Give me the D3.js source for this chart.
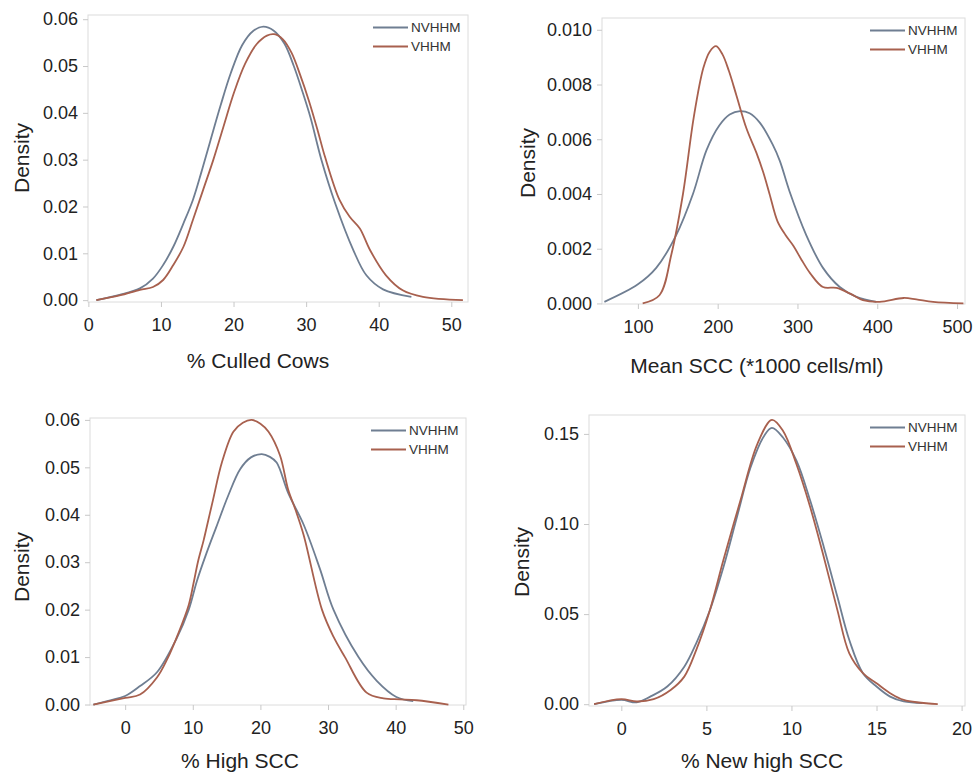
<!DOCTYPE html>
<html>
<head>
<meta charset="utf-8">
<script src="https://cdn.jsdelivr.net/npm/d3@7"></script>
<style>
  body { margin: 0; background: #fff; }
  svg { font-family: "Liberation Sans", Arial, sans-serif; }
  .tick text { fill: #222; }
</style>
</head>
<body>
<div id="chart"></div>
<script>
// series names
var seriesNames = ["NVHHM", "VHHM"];

// panel 1: % culled cows  [x, density]
var culledNV = [[1.1,0],[4.3,0.0011],[7.1,0.0025],[8.9,0.0046],[10.3,0.0075],[11.7,0.0114],[13.1,0.0164],[14.4,0.0214],[15.6,0.0275],[16.8,0.034],[18.2,0.0415],[19.6,0.0484],[21.2,0.0545],[22.7,0.0575],[24.1,0.0584],[25.5,0.0576],[27,0.0548],[28.3,0.05],[29.5,0.0445],[30.6,0.039],[32.1,0.03],[34,0.0207],[36.5,0.0107],[38.3,0.0053],[40.6,0.0023],[44.5,0.0007]];
var culledV = [[1.1,0],[4.3,0.001],[7.1,0.0022],[8.9,0.0028],[10.3,0.0043],[11.7,0.0075],[13.1,0.0114],[14.4,0.0171],[15.8,0.0235],[17.2,0.0299],[18.6,0.037],[20.1,0.0445],[21.6,0.0505],[23.2,0.0547],[24.6,0.0565],[25.6,0.0568],[26.8,0.0557],[28,0.0528],[29.2,0.048],[30.4,0.0425],[31.6,0.0362],[32.6,0.0306],[34.6,0.0214],[36,0.0178],[37.4,0.0153],[38.8,0.0107],[41,0.0053],[43.3,0.0021],[46.1,0.0007],[51.6,0]];

// panel 2: mean SCC
var sccNV = [[58,0.00006],[100,0.0007],[123,0.0013],[148,0.0025],[169,0.004],[186,0.0056],[202,0.0065],[215,0.0069],[228,0.00703],[240,0.00695],[253,0.0066],[269,0.0058],[278,0.0052],[290,0.0041],[311,0.0025],[332,0.0013],[353,0.0006],[374,0.00024],[399,0.00006]];
var sccV = [[106,0],[127,0.0003],[142,0.0018],[156.5,0.004],[170,0.0068],[182,0.0086],[190,0.0092],[198,0.0094],[206,0.0091],[214,0.0085],[223.5,0.0076],[236,0.0064],[248.6,0.0055],[257,0.0048],[265,0.004],[275,0.003],[285,0.0025],[295,0.0021],[305,0.0016],[316,0.0011],[332,0.0006],[349,0.00057],[366,0.00036],[382,0.00012],[403,0.00006],[433,0.0002],[449,0.00015],[470,0.00006],[508,0]];

// panel 3: % high SCC
var highNV = [[-4.7,0],[-2.2,0.0009],[0,0.0018],[2.2,0.0039],[4.7,0.0068],[7.6,0.0139],[9.4,0.02],[10.6,0.026],[12,0.0318],[13.5,0.0375],[15.2,0.0439],[17,0.0496],[18.6,0.0521],[20.2,0.0528],[21.4,0.0522],[22.4,0.051],[24.1,0.0446],[26.4,0.0379],[28.8,0.0286],[30.8,0.02],[34.5,0.01],[37.2,0.005],[40.1,0.0016],[42.6,0.0007]];
var highV = [[-4.7,0],[0,0.0014],[2.2,0.0021],[4.7,0.0057],[6.2,0.0095],[7.8,0.0148],[9.4,0.021],[10.1,0.0255],[10.8,0.0303],[11.6,0.0346],[12.3,0.0389],[13,0.0432],[14.3,0.051],[16,0.0575],[17.4,0.0594],[18.7,0.06],[20,0.0592],[21.2,0.0575],[22.9,0.0525],[24.1,0.0453],[25.2,0.041],[26.4,0.0357],[29.1,0.02],[30.8,0.0143],[32.5,0.01],[35.7,0.0025],[38.2,0.0013],[40.6,0.0011],[43.1,0.0009],[47.8,0]];

// panel 4: % new high SCC
var newNV = [[-1.6,0],[0,0.0024],[0.9,0.001],[1.7,0.0042],[2.7,0.0098],[3.7,0.0208],[4.4,0.0338],[5.2,0.052],[6,0.076],[6.8,0.104],[7.6,0.1315],[8.4,0.149],[8.85,0.1533],[9.5,0.148],[10.3,0.135],[11.1,0.113],[11.9,0.0873],[12.7,0.0596],[13.4,0.0356],[14.2,0.0172],[15,0.0098],[15.8,0.0042],[16.6,0.0015],[17.7,0.0006]];
var newV = [[-1.6,0],[0,0.0028],[0.9,0.0015],[1.9,0.0028],[2.9,0.0079],[3.7,0.0153],[4.4,0.03],[5.2,0.052],[6,0.08],[7,0.113],[8,0.1445],[8.85,0.1578],[9.5,0.1518],[10.3,0.133],[11.1,0.1094],[11.9,0.0817],[12.7,0.0522],[13.4,0.0282],[14.2,0.0172],[15,0.0116],[15.8,0.0061],[16.6,0.0024],[18.6,0]];

// tick values
var culledTicks = [0, 10, 20, 30, 40, 50];
var sccTicks = [100, 200, 300, 400, 500];
var highTicks = [0, 10, 20, 30, 40, 50];
var newTicks = [0, 5, 10, 15, 20];

var colors = ["#6f7e92", "#a8604e"];

var svg = d3.select("#chart").append("svg")
  .attr("width", 975)
  .attr("height", 773);

// frame boxes are layout only
var panels = [
  { nv: culledNV, v: culledV, xt: culledTicks, xd: [-0.05, 52.3], yd: [-0.0004, 0.0609], yt: [0,0.01,0.02,0.03,0.04,0.05,0.06], yf: ".2f",
    box: { l: 88, t: 15, r: 468, b: 302 }, title: "% Culled Cows", tx: 258, ty: 368, dx: 22, dy: 158 },
  { nv: sccNV, v: sccV, xt: sccTicks, xd: [55, 510], yd: [-0.00002, 0.01043], yt: [0,0.002,0.004,0.006,0.008,0.01], yf: ".3f",
    box: { l: 602, t: 18, r: 965, b: 304 }, title: "Mean SCC (*1000 cells/ml)", tx: 757, ty: 373, dx: 528, dy: 163 },
  { nv: highNV, v: highV, xt: highTicks, xd: [-5.2, 50.4], yd: [-0.0001, 0.0604], yt: [0,0.01,0.02,0.03,0.04,0.05,0.06], yf: ".2f",
    box: { l: 90, t: 418, r: 466, b: 705 }, title: "% High SCC", tx: 240, ty: 768, dx: 22, dy: 567 },
  { nv: newNV, v: newV, xt: newTicks, xd: [-1.9, 20.2], yd: [-0.001, 0.1605], yt: [0,0.05,0.1,0.15], yf: ".2f",
    box: { l: 589, t: 415, r: 965, b: 706 }, title: "% New high SCC", tx: 762, ty: 768, dx: 522, dy: 562 }
];

panels.forEach(function(p) {
  var x = d3.scaleLinear().domain(p.xd).range([p.box.l, p.box.r]);
  var y = d3.scaleLinear().domain(p.yd).range([p.box.b, p.box.t]);

  // frame
  svg.append("rect")
    .attr("x", p.box.l).attr("y", p.box.t)
    .attr("width", p.box.r - p.box.l).attr("height", p.box.b - p.box.t)
    .attr("fill", "none").attr("stroke", "#dcdcdc");

  // axes
  var xAxis = svg.append("g")
    .attr("transform", `translate(0, ${p.box.b})`)
    .call(d3.axisBottom(x).tickValues(p.xt).tickSize(5).tickPadding(11));
  var yAxis = svg.append("g")
    .attr("transform", `translate(${p.box.l}, 0)`)
    .call(d3.axisLeft(y).tickValues(p.yt).tickFormat(d3.format(p.yf)).tickSize(5).tickPadding(5));

  [xAxis, yAxis].forEach(function(a) {
    a.select(".domain").remove();
    a.selectAll(".tick line").attr("stroke", "#c8c8c8");
    a.selectAll(".tick text").attr("font-size", 18).attr("font-family", "Liberation Sans, Arial, sans-serif");
  });

  // curves
  var line = d3.line()
    .x(d => x(d[0]))
    .y(d => y(d[1]))
    .curve(d3.curveCatmullRom.alpha(0.5));

  [p.nv, p.v].forEach(function(s, i) {
    svg.append("path")
      .datum(s)
      .attr("d", line)
      .attr("fill", "none")
      .attr("stroke", colors[i])
      .attr("stroke-width", 1.8);
  });

  // legend
  seriesNames.forEach(function(name, i) {
    var ly = p.box.t + 12.5 + i * 19;
    svg.append("line")
      .attr("x1", p.box.r - 95).attr("x2", p.box.r - 60)
      .attr("y1", ly).attr("y2", ly)
      .attr("stroke", colors[i]).attr("stroke-width", 2);
    svg.append("text")
      .attr("x", p.box.r - 57).attr("y", ly)
      .attr("dy", "0.35em")
      .attr("font-size", 13.5)
      .attr("fill", "#333")
      .text(name);
  });

  // axis titles
  svg.append("text")
    .attr("x", p.tx).attr("y", p.ty)
    .attr("text-anchor", "middle")
    .attr("font-size", 21)
    .attr("fill", "#222")
    .text(p.title);

  svg.append("text")
    .attr("transform", `translate(${p.dx}, ${p.dy}) rotate(-90)`)
    .attr("text-anchor", "middle")
    .attr("dy", "0.35em")
    .attr("font-size", 21)
    .attr("fill", "#222")
    .text("Density");
});
</script>
</body>
</html>
